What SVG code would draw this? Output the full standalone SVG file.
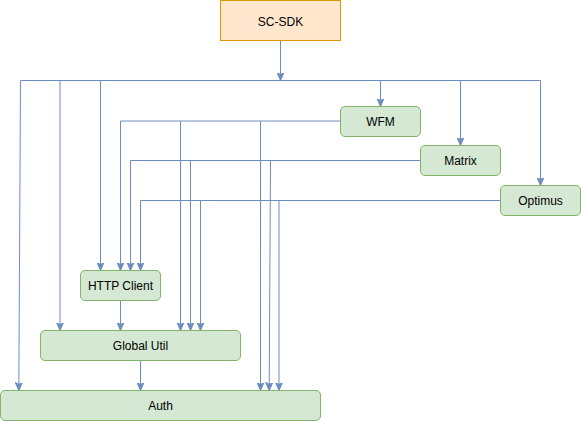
<svg xmlns="http://www.w3.org/2000/svg" width="581" height="421" viewBox="0 0 581 421">
<style>
.n{fill:#d5e8d4;stroke:#82b366;stroke-width:1}
.o{fill:#ffe6cc;stroke:#d79b00;stroke-width:1}
.t{font-family:"Liberation Sans",Arial,sans-serif;font-size:12px;fill:#000;text-anchor:middle}
.e{fill:none;stroke:#6c8ebf;stroke-width:1}
.a{marker-end:url(#arr)}
</style>
<defs>
<marker id="arr" markerUnits="userSpaceOnUse" markerWidth="8" markerHeight="8" viewBox="0 0 8 8" refX="8" refY="4" orient="auto">
<path d="M0,0.5 L8,4 L0,7.5 L2,4 Z" fill="#6c8ebf" stroke="#6c8ebf" stroke-width="1"/>
</marker>
</defs>
<rect width="581" height="421" fill="#fff"/>
<g transform="translate(0.5,0.5)">
<g id="connectors">
<path class="e a" d="M280,40 L280,80"/>
<path class="e" d="M20,80 L540,80"/>
<path class="e a" d="M20,80 L18.3,390"/>
<path class="e a" d="M59.5,80 L59.5,330"/>
<path class="e a" d="M100,80 L100,270"/>
<path class="e a" d="M380,80 L380,106"/>
<path class="e a" d="M460,80 L460,145"/>
<path class="e a" d="M540,80 L540,185"/>
<path class="e" d="M340,120.5 L120,120.5"/>
<path class="e a" d="M120,120.5 L120,270"/>
<path class="e a" d="M180,120.5 L180,330"/>
<path class="e a" d="M260,120.5 L260,390"/>
<path class="e" d="M420,160 L130,160"/>
<path class="e a" d="M130,160 L130,270"/>
<path class="e a" d="M190,160 L190,330"/>
<path class="e a" d="M270,160 L268.7,390"/>
<path class="e" d="M500,200 L140,200"/>
<path class="e a" d="M140,200 L140,270"/>
<path class="e a" d="M200,200 L200,330"/>
<path class="e a" d="M278.5,200 L278.5,390"/>
<path class="e a" d="M120,300 L120,330"/>
<path class="e a" d="M140,360 L140,390"/>
</g>
<g id="sc-sdk"><rect class="o" x="220" y="0" width="120" height="40"/><text class="t" x="280" y="25">SC-SDK</text></g>
<g id="wfm"><rect class="n" x="340" y="106" width="80" height="30" rx="4.5"/><text class="t" x="380" y="125.5">WFM</text></g>
<g id="matrix"><rect class="n" x="420" y="145" width="80" height="30" rx="4.5"/><text class="t" x="460" y="164.5">Matrix</text></g>
<g id="optimus"><rect class="n" x="500" y="185" width="80" height="30" rx="4.5"/><text class="t" x="540" y="204.5">Optimus</text></g>
<g id="http-client"><rect class="n" x="80" y="270" width="80" height="30" rx="4.5"/><text class="t" x="120" y="289.5">HTTP Client</text></g>
<g id="global-util"><rect class="n" x="40" y="330" width="200" height="30" rx="4.5"/><text class="t" x="140" y="349.5">Global Util</text></g>
<g id="auth"><rect class="n" x="0" y="390" width="320" height="30" rx="4.5"/><text class="t" x="160" y="409.5">Auth</text></g>
</g>
</svg>
